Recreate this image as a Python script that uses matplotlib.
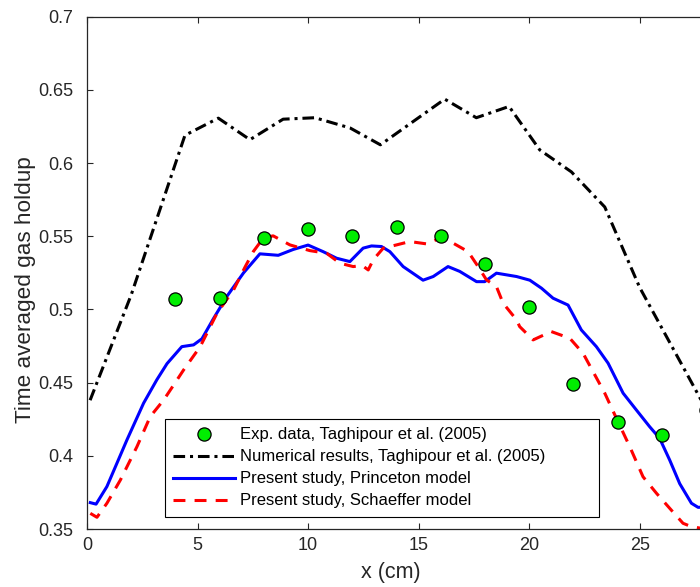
import matplotlib
matplotlib.use('Agg')
import matplotlib.pyplot as plt
from matplotlib.ticker import FormatStrFormatter

plt.rcParams['font.family'] = ['Liberation Sans', 'DejaVu Sans']

# experimental data, Taghipour et al. (2005)
exp_x = [4, 6, 8, 10, 12, 14, 16, 18, 20, 22, 24, 26, 28]
exp_y = [0.507, 0.508, 0.549, 0.555, 0.550, 0.556, 0.550, 0.531, 0.502, 0.449, 0.423, 0.414, 0.431]

# numerical results, Taghipour et al. (2005)
num_x = [0.14, 2.0, 4.43, 5.94, 7.37, 8.87, 10.31, 11.9, 13.27, 16.18, 17.61, 19.09,
         20.48, 21.91, 23.42, 25.0, 28.0]
num_y = [0.438, 0.510, 0.619, 0.6307, 0.616, 0.630, 0.631, 0.624, 0.6125, 0.6437, 0.631, 0.6387,
         0.609, 0.594, 0.570, 0.515, 0.432]

# present study, Princeton model
pr_x = [0.15, 0.41, 0.9, 1.81, 2.56, 3.16, 3.62, 4.29, 4.82, 5.2, 5.73, 6.33, 7.08, 7.82,
        8.65, 9.33, 10.0, 10.68, 11.29, 11.89, 12.49, 12.87, 13.32, 13.7, 14.3, 15.2, 15.66,
        16.33, 16.86, 17.62, 17.99, 18.52, 19.43, 20.03, 20.56, 21.08, 21.76, 22.36, 23.04,
        23.57, 24.25, 24.85, 25.45, 25.9, 26.36, 26.81, 27.34, 27.64, 28.0]
pr_y = [0.368, 0.367, 0.379, 0.411, 0.436, 0.452, 0.463, 0.4746, 0.4758, 0.480, 0.494, 0.509,
        0.525, 0.538, 0.537, 0.541, 0.544, 0.5395, 0.535, 0.5327, 0.5419, 0.5434, 0.543, 0.5395,
        0.5293, 0.520, 0.5225, 0.5293, 0.526, 0.519, 0.519, 0.5248, 0.5225, 0.520, 0.5145,
        0.5077, 0.503, 0.486, 0.4746, 0.4633, 0.4428, 0.4313, 0.4199, 0.412, 0.397, 0.381,
        0.3676, 0.3648, 0.365]

# present study, Schaeffer model
sc_x = [0.15, 0.45, 0.9, 1.51, 2.26, 2.86, 3.47, 3.92, 4.37, 5.12, 5.88, 6.63, 7.16, 7.52,
        7.97, 8.42, 9.18, 10.08, 10.84, 11.44, 12.04, 12.45, 12.72, 12.95, 13.4, 14.0, 14.6,
        15.36, 15.96, 16.56, 17.24, 17.69, 18.07, 18.52, 18.82, 19.43, 19.57, 20.18, 21.0,
        21.84, 22.44, 22.89, 23.42, 23.95, 24.55, 25.15, 25.76, 26.36, 26.96, 27.34, 27.7, 28.0]
sc_y = [0.3607, 0.358, 0.3676, 0.3835, 0.4063, 0.4268, 0.4382, 0.4484, 0.4587, 0.4746, 0.4974,
        0.5134, 0.5293, 0.5395, 0.5487, 0.5503, 0.5441, 0.5402, 0.5384, 0.5316, 0.5293, 0.530,
        0.527, 0.534, 0.5419, 0.5441, 0.5464, 0.5448, 0.5487, 0.5453, 0.5395, 0.5293, 0.5202,
        0.5156, 0.5043, 0.4929, 0.4883, 0.4792, 0.4849, 0.4803, 0.470, 0.4575, 0.4428, 0.4255,
        0.4063, 0.3857, 0.3744, 0.3641, 0.3539, 0.3516, 0.3507, 0.3505]

x_ticks = [0, 5, 10, 15, 20, 25]
y_ticks = [0.35, 0.4, 0.45, 0.5, 0.55, 0.6, 0.65, 0.7]

fig = plt.figure(figsize=(7.0, 5.87), dpi=100)
# right side of the axes box falls just outside the picture, as in the original crop
ax = fig.add_axes([0.1243, 0.0988, 0.8843, 0.8727])

ax.plot(exp_x, exp_y, linestyle='none', marker='o', markersize=9.5,
        markerfacecolor='#00ee00', markeredgecolor='black', markeredgewidth=0.9,
        label='Exp. data, Taghipour et al. (2005)', zorder=5, clip_on=False)
ax.plot(num_x, num_y, color='black', linewidth=2.2, dashes=(3.8, 1.6, 1.0, 1.6),
        label='Numerical results, Taghipour et al. (2005)')
ax.plot(pr_x, pr_y, color='#0000ff', linewidth=2.2,
        label='Present study, Princeton model')
ax.plot(sc_x, sc_y, color='#ff0000', linewidth=2.2, dashes=(3.9, 3.0),
        label='Present study, Schaeffer model')

ax.set_xlim(0, 28)
ax.set_ylim(0.35, 0.7)
ax.set_xticks(x_ticks)
ax.set_yticks(y_ticks)
ax.yaxis.set_major_formatter(FormatStrFormatter('%g'))

dark = '#262626'
for s in ax.spines.values():
    s.set_color(dark)
    s.set_linewidth(0.9)
ax.tick_params(direction='in', length=4.5, width=0.8, color=dark, labelcolor=dark,
               labelsize=13, top=True, right=True)
ax.tick_params(axis='x', pad=6)
ax.tick_params(axis='y', pad=10)

ax.set_xlabel('x (cm)', fontsize=15.5, color=dark)
ax.set_ylabel('Time averaged gas holdup', fontsize=16.2, color=dark)
ax.xaxis.set_label_coords(0.491, -0.065)
ax.yaxis.set_label_coords(-0.083, 0.468)

leg = ax.legend(loc='lower left', bbox_to_anchor=(0.126, 0.024, 0.701, 0.185), mode='expand',
                fontsize=12, frameon=True, fancybox=False, edgecolor='black', framealpha=1,
                handlelength=3.7, handletextpad=0.3, labelspacing=0.42,
                borderpad=0.5, borderaxespad=0)
leg.get_frame().set_linewidth(0.8)

fig.savefig('out.png', dpi=100)
